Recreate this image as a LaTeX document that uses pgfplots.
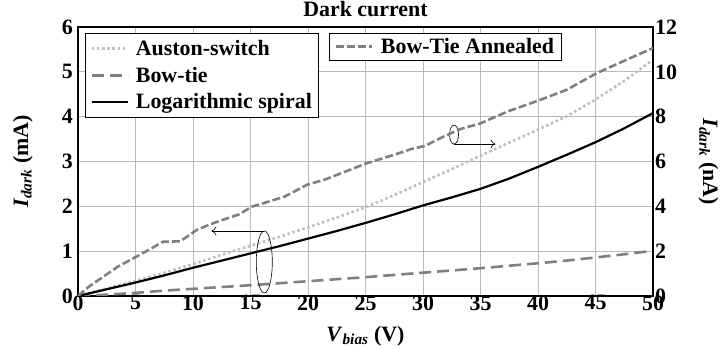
\documentclass[border=0pt]{standalone}
\usepackage{pgfplots}
\pgfplotsset{compat=1.18}
\usepackage{fontspec}
\setmainfont{Liberation Serif}
\usetikzlibrary{arrows.meta}
\definecolor{lgray}{RGB}{191,191,191}
\definecolor{mgray}{RGB}{128,128,128}
\newcommand{\bi}[1]{\textbf{\textit{#1}}}
\newcommand{\bigfont}{\fontsize{22}{26}\selectfont\bfseries}
\begin{document}
\begin{tikzpicture}[font=\bigfont]
\pgfplotsset{
  common/.style={
    scale only axis, width=575bp, height=269bp,
    xmin=0, xmax=50,
    major tick length=0pt,
    tick label style={font=\bigfont},
    /pgf/number format/assume math mode=true,
    legend cell align=left,
    legend image code/.code={\draw[##1] (0bp,0bp) -- (36bp,0bp);},
  }
}
\begin{axis}[common,
  ymin=0, ymax=6,
  xtick={0,5,...,50}, ytick={0,1,...,6},
  grid=major, grid style={gray!55, line width=0.7bp},
  axis line style={line width=1.5bp},
  xticklabel style={yshift=4bp},
  yticklabel style={inner sep=5bp},
  title={Dark current},
  title style={at={(axis description cs:0.5,1.0186)}, anchor=base, inner sep=0pt, font=\bigfont},
  xlabel={\bi{V}\textsubscript{\bi{bias}} (V)},
  xlabel style={at={(axis description cs:0.5,-0.1673)}, anchor=base, inner sep=0pt, font=\bigfont},
  ylabel={\bi{I}\textsubscript{\bi{dark}} (mA)},
  ylabel style={at={(axis description cs:-0.0783,0.5)}, anchor=south, inner sep=0pt, font=\bigfont},
  legend style={at={(0.012,0.978)}, anchor=north west, draw=black, line width=0.8bp, fill=white,
    font=\bigfont, row sep=6bp, column sep=5bp, inner xsep=5bp, inner ysep=5bp},
]
\addplot[lgray, line width=2.6bp, dash pattern=on 2.6bp off 2.6bp] coordinates {
(0,0) (2.5,0.17) (5,0.34) (7.5,0.52) (10,0.71) (12.5,0.92) (15,1.12) (17.5,1.32) (20,1.53)
(22.5,1.75) (25,1.98) (27.5,2.25) (30,2.54) (32.5,2.83) (35,3.13) (37.5,3.42) (40,3.71)
(42.5,4.01) (45,4.38) (47.5,4.80) (50,5.27)};
\addlegendentry{Auston-switch}
\addplot[mgray, line width=2.6bp, dash pattern=on 12bp off 6bp] coordinates {
(0,0) (2.5,0.03) (5,0.07) (7.5,0.12) (10,0.16) (12.5,0.20) (15,0.24) (17.5,0.285) (20,0.33)
(22.5,0.375) (25,0.42) (27.5,0.47) (30,0.52) (32.5,0.57) (35,0.62) (37.5,0.675) (40,0.73)
(42.5,0.79) (45,0.86) (47.5,0.93) (50,1.01)};
\addlegendentry{Bow-tie}
\addplot[black, line width=2.2bp] coordinates {
(0,0) (2.5,0.15) (5,0.30) (7.5,0.46) (10,0.63) (12.5,0.79) (15,0.95) (17.5,1.11) (20,1.28)
(22.5,1.45) (25,1.63) (27.5,1.82) (30,2.02) (32.5,2.20) (35,2.39) (37.5,2.62) (40,2.88)
(42.5,3.15) (45,3.43) (47.5,3.74) (50,4.08)};
\addlegendentry{Logarithmic spiral}
% annotations
\draw[line width=0.6bp] (axis cs:16.2,0.76) ellipse [x radius=8bp, y radius=31bp];
\draw[line width=0.6bp, -{To[length=5bp,width=9bp]}] (axis cs:16.2,1.45) -- (axis cs:11.6,1.45);
\draw[line width=0.6bp] (axis cs:32.7,3.60) ellipse [x radius=4.5bp, y radius=9.5bp];
\draw[line width=0.6bp, -{To[length=5bp,width=9bp]}] (axis cs:32.7,3.39) -- (axis cs:36.3,3.39);
\end{axis}
\begin{axis}[common,
  ymin=0, ymax=12, ytick={0,2,...,12},
  axis y line*=right, axis x line=none,
  axis line style={line width=1.5bp},
  yticklabel style={inner sep=2bp},
  ylabel={\bi{I}\textsubscript{\bi{dark}} (nA)},
  ylabel style={at={(axis description cs:1.0785,0.5)}, rotate=180, anchor=south, inner sep=0pt, font=\bigfont},
  legend style={at={(0.4365,0.978)}, anchor=north west, draw=black, line width=0.8bp, fill=white,
    font=\bigfont, column sep=6bp, inner xsep=5bp, inner ysep=3bp},
]
\addplot[mgray, line width=2.6bp, dash pattern=on 8bp off 3bp] coordinates {
(0,0) (1,0.44) (2.2,0.86) (3.5,1.32) (5.1,1.76) (6.3,2.10) (7.4,2.42) (8.9,2.44) (10.3,2.94)
(11.5,3.20) (12.6,3.40) (14,3.64) (15.1,3.98) (16.5,4.20) (18,4.44) (19.9,4.96) (21.5,5.20)
(23,5.50) (25.1,5.92) (27.5,6.30) (29.0,6.56) (30.2,6.70) (31.5,7.04) (33.2,7.44) (35,7.70)
(37.3,8.22) (40.2,8.75) (42.5,9.20) (45.1,9.94) (47.7,10.54) (50,11.06)};
\addlegendentry{Bow-Tie Annealed}
\end{axis}
\pgfresetboundingbox
\path[use as bounding box] (-78bp,-53bp) rectangle (643bp,296bp);
\end{tikzpicture}
\end{document}
